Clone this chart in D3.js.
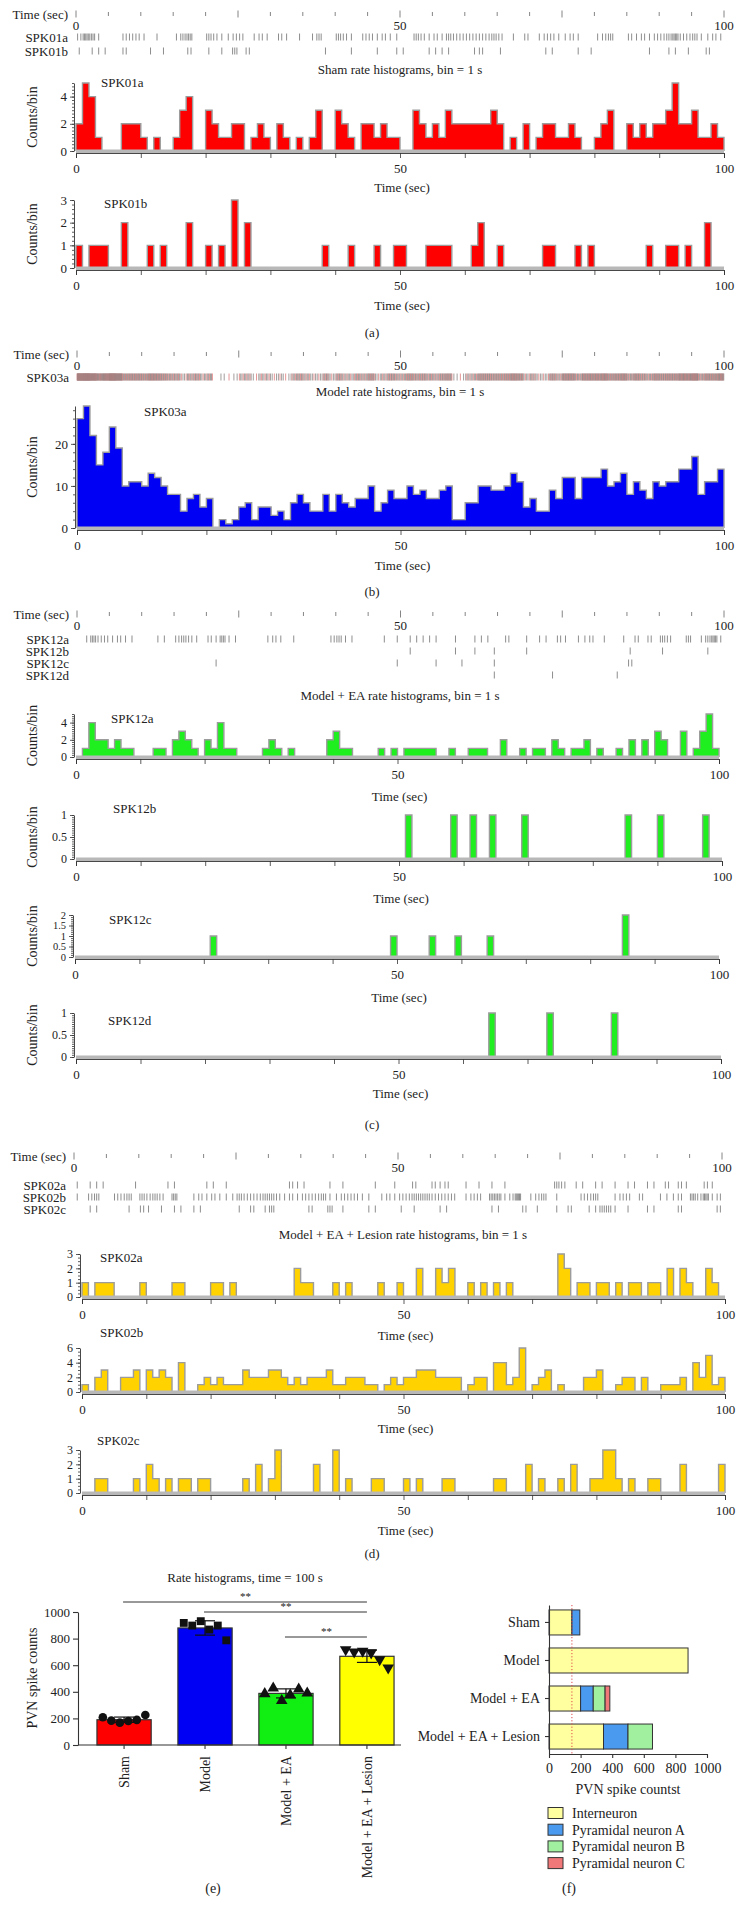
<!DOCTYPE html>
<html>
<head>
<meta charset="utf-8">
<script src="https://cdn.jsdelivr.net/npm/d3@7"></script>
<style>
  body { margin: 0; background: #fff; }
  svg text { font-family: 'Liberation Serif', 'Times New Roman', serif; fill: #222; }
</style>
</head>
<body>
<div id="chart"></div>
<script>
// spike counts per 1 s bin, 100 bins
const spk01a = [2,5,4,1,0,0,0,2,2,2, 1,0,1,0,0,1,3,4,0,0, 3,2,1,1,2,2,0,1,2,1, 0,2,1,0,1,0,1,3,0,0,
                3,2,1,0,2,2,1,2,1,1, 0,0,3,2,1,2,1,3,2,2, 2,2,2,2,3,2,0,1,0,2, 0,1,2,2,1,1,2,1,0,0,
                1,2,3,0,0,2,1,2,1,2, 2,3,5,2,2,3,1,1,2,1];
const spk01b = [1,0,1,1,1,0,0,2,0,0, 0,1,0,1,0,0,0,2,0,0, 1,0,1,0,3,0,2,0,0,0, 0,0,0,0,0,0,0,0,1,0,
                0,0,1,0,0,0,1,0,0,1, 1,0,0,0,1,1,1,1,0,0, 0,1,2,0,0,1,0,0,0,0, 0,0,1,1,0,0,0,1,0,1,
                0,0,0,0,0,0,0,0,1,0, 0,1,1,0,1,0,0,2,0,0];
const spk03a = [26,29,22,15,18,24,19,10,11,11, 10,13,12,10,8,8,4,7,8,5, 7,0,2,1,2,5,6,2,5,5, 3,4,2,6,8,6,4,4,8,4,
                8,6,5,7,7,10,4,6,9,7, 7,10,8,9,7,7,9,10,2,2, 6,6,10,10,9,9,10,13,11,5, 7,4,4,9,7,12,12,7,12,12,
                12,14,10,11,13,8,11,9,7,11, 10,11,11,14,14,17,8,11,11,14];
const spk12a = [0,1,4,2,2,1,2,1,1,0, 0,0,1,1,0,2,3,2,1,0, 2,1,4,1,1,0,0,0,0,1, 2,1,0,1,0,0,0,0,0,2,
                3,1,1,0,0,0,0,1,0,1, 0,1,1,1,1,1,0,0,1,0, 0,1,1,1,0,0,2,0,0,1, 0,1,1,0,2,1,0,1,1,2,
                0,1,0,0,1,0,2,0,2,0, 3,2,0,0,3,0,1,3,5,1];
const spk12b = [0,0,0,0,0,0,0,0,0,0, 0,0,0,0,0,0,0,0,0,0, 0,0,0,0,0,0,0,0,0,0, 0,0,0,0,0,0,0,0,0,0,
                0,0,0,0,0,0,0,0,0,0, 0,1,0,0,0,0,0,0,1,0, 0,1,0,0,1,0,0,0,0,1, 0,0,0,0,0,0,0,0,0,0,
                0,0,0,0,0,1,0,0,0,0, 1,0,0,0,0,0,0,1,0,0];
const spk12c = [0,0,0,0,0,0,0,0,0,0, 0,0,0,0,0,0,0,0,0,0, 0,1,0,0,0,0,0,0,0,0, 0,0,0,0,0,0,0,0,0,0,
                0,0,0,0,0,0,0,0,0,1, 0,0,0,0,0,1,0,0,0,1, 0,0,0,0,1,0,0,0,0,0, 0,0,0,0,0,0,0,0,0,0,
                0,0,0,0,0,2,0,0,0,0, 0,0,0,0,0,0,0,0,0,0];
const spk12d = [0,0,0,0,0,0,0,0,0,0, 0,0,0,0,0,0,0,0,0,0, 0,0,0,0,0,0,0,0,0,0, 0,0,0,0,0,0,0,0,0,0,
                0,0,0,0,0,0,0,0,0,0, 0,0,0,0,0,0,0,0,0,0, 0,0,0,0,1,0,0,0,0,0, 0,0,0,1,0,0,0,0,0,0,
                0,0,0,1,0,0,0,0,0,0, 0,0,0,0,0,0,0,0,0,0];
const spk02a = [1,0,1,1,1,0,0,0,0,1, 0,0,0,0,1,1,0,0,0,0, 1,1,0,1,0,0,0,0,0,0, 0,0,0,2,1,1,0,0,0,1,
                0,1,0,0,0,0,1,0,0,1, 0,0,2,0,0,2,1,2,0,0, 1,0,1,0,1,0,1,0,0,0, 0,0,0,0,3,2,0,1,1,0,
                1,1,0,1,0,1,1,0,1,1, 0,2,0,2,1,0,0,2,1,0];
const spk02b = [1,0,2,3,0,0,2,2,3,0, 3,2,3,2,0,4,0,0,1,2, 1,2,1,1,1,3,2,2,2,3, 3,2,1,2,1,2,2,2,3,1,
                1,2,2,2,1,1,0,1,2,1, 2,2,3,3,3,2,2,2,2,0, 1,2,2,0,4,4,1,2,6,0, 1,2,3,0,1,0,0,0,2,2,
                3,0,0,1,2,2,0,2,0,0, 1,1,1,2,0,4,2,5,1,2];
const spk02c = [0,0,1,1,0,0,0,0,1,0, 2,1,0,1,0,1,1,0,1,1, 0,0,0,0,0,1,0,2,0,1, 3,0,0,0,0,0,2,0,0,3,
                0,1,0,0,0,1,1,0,0,0, 1,0,1,0,0,0,1,1,0,0, 0,0,0,0,1,1,0,0,0,2, 0,1,0,0,1,0,2,0,0,1,
                1,3,3,1,0,1,0,0,1,1, 0,0,0,2,0,0,0,0,0,2];

const rulerTicks = [0,5,10,15,20,25,30,35,40,45,50,55,60,65,70,75,80,85,90,95,100];
const timeTicks = [0,10,20,30,40,50,60,70,80,90,100];
const timeLabels = [0, 50, 100];

// panel (e)
const groups = ["Sham", "Model", "Model + EA", "Model + EA + Lesion"];
const meanCounts = [190, 880, 388, 667];
const sdCounts = [20, 54, 34, 46];
const shamPts = [209, 183, 168, 181, 189, 226];
const modelPts = [918, 898, 931, 868, 898, 787];
const eaPts = [385, 428, 334, 377, 420, 390];
const lesionPts = [717, 700, 706, 694, 642, 581];
const countTicks = [0, 200, 400, 600, 800, 1000];
const sigPairs = [[0, 3], [1, 3], [2, 3]];

// panel (f)
const cellTypes = ["Interneuron", "Pyramidal neuron A", "Pyramidal neuron B", "Pyramidal neuron C"];
const interneuron = [145, 880, 200, 345];
const pyramidalA = [50, 0, 80, 155];
const pyramidalB = [0, 0, 75, 155];
const pyramidalC = [0, 0, 30, 0];
const refLine = 145;

const svg = d3.select("#chart").append("svg").attr("width", 745).attr("height", 1914);
svg.append("rect").attr("width", 745).attr("height", 1914).attr("fill", "#fff");

function text(x, y, s, size, anchor, rot) {
  const t = svg.append("text").attr("x", x).attr("y", y).attr("dy", "0.35em")
    .attr("font-size", size || 13).attr("text-anchor", anchor || "middle").text(s);
  if (rot) t.attr("transform", `rotate(${rot},${x},${y})`);
  return t;
}

// spread each bin's count across that bin for the raster rows
const spikeTimes = counts => counts.flatMap((n, i) => d3.range(n).map(k => i + (k + 0.5) / n));

function raster(cfg) {
  const x = d3.scaleLinear().domain([0, 100]).range(cfg.range);
  const g = svg.append("g");
  text(cfg.range[0] - 8, cfg.y, "Time (sec)", 13, "end");
  g.selectAll("line.rt").data(rulerTicks).join("line")
    .attr("x1", d => x(d)).attr("x2", d => x(d))
    .attr("y1", d => cfg.y - (d % 25 === 0 ? 3.5 : 2))
    .attr("y2", d => cfg.y + (d % 25 === 0 ? 3.5 : 2))
    .attr("stroke", "#666").attr("stroke-width", 0.8);
  g.selectAll("text.rl").data(timeLabels).join("text")
    .attr("x", d => x(d)).attr("y", cfg.y + 11).attr("dy", "0.35em")
    .attr("text-anchor", "middle").attr("font-size", 13).text(d => d);
  cfg.rows.forEach(([name, counts, yy]) => {
    text(cfg.range[0] - 8, yy, name, 13, "end");
    g.append("g").selectAll("line").data(spikeTimes(counts)).join("line")
      .attr("x1", d => x(d)).attr("x2", d => x(d))
      .attr("y1", yy - 3.5).attr("y2", yy + 3.5)
      .attr("stroke", (d, i) => cfg.tint ? (i % 3 === 0 ? "#e07a7a" : "#8c8484") : "#707070")
      .attr("stroke-width", 0.8);
  });
}

function hist(cfg) {
  const x = d3.scaleLinear().domain([0, 100]).range(cfg.range);
  const y = d3.scaleLinear().domain([0, cfg.max]).range([cfg.base, cfg.top]);
  const g = svg.append("g");
  const pts = cfg.data.map((v, i) => [i, v]).concat([[100, cfg.data[99]]]);
  g.append("path").datum(pts)
    .attr("d", d3.area().curve(d3.curveStepAfter).x(d => x(d[0])).y0(y(0)).y1(d => y(d[1])))
    .attr("fill", cfg.color);
  const outline = [[0, 0]].concat(pts, [[100, 0]]);
  g.append("path").datum(outline)
    .attr("d", d3.line().curve(d3.curveStepAfter).x(d => x(d[0])).y(d => y(d[1])))
    .attr("fill", "none").attr("stroke", "#9c9c9c").attr("stroke-width", 1.4);
  g.append("rect").attr("x", cfg.range[0]).attr("width", cfg.range[1] - cfg.range[0])
    .attr("y", cfg.base - 1.5).attr("height", 3.5).attr("fill", "#b8b8b8");

  const xa = g.append("g").attr("transform", `translate(0,${cfg.base + 2})`)
    .call(d3.axisBottom(x).tickValues(timeTicks).tickSize(5).tickPadding(6)
      .tickFormat(d => timeLabels.includes(d) ? d : ""));
  const ya = g.append("g").attr("transform", `translate(${cfg.range[0] - 2},0)`)
    .call(d3.axisLeft(y).tickValues(cfg.major).tickSize(4).tickPadding(3).tickSizeOuter(0)
      .tickFormat(d3.format("~g")));
  g.append("g").attr("transform", `translate(${cfg.range[0] - 2},0)`)
    .call(d3.axisLeft(y).tickValues(d3.range(0, cfg.max + 1e-9, cfg.minor)).tickSize(2).tickFormat("").tickSizeOuter(0))
    .select(".domain").remove();
  xa.selectAll("text").attr("font-size", 13).attr("fill", "#222");
  ya.selectAll("text").attr("font-size", cfg.tickFont || 13).attr("fill", "#222");
  [xa, ya].forEach(a => a.selectAll("line,path").attr("stroke", "#333").attr("stroke-width", 0.9));
  g.selectAll(".tick line").attr("stroke", "#333").attr("stroke-width", 0.8);
  text(cfg.nameX, cfg.nameY, cfg.name, 13, "start");
  if (cfg.yTitle) text(32, (cfg.base + cfg.top) / 2, "Counts/bin", 14, "middle", -90);
  if (cfg.timeY) text((cfg.range[0] + cfg.range[1]) / 2 + 2, cfg.timeY, "Time (sec)", 13);
}

const RED = "#ff0000", BLUE = "#0000f5", GREEN = "#1fee1f", GOLD = "#ffd200";

// (a) Sham
raster({ range: [76, 724], y: 14, rows: [["SPK01a", spk01a, 37], ["SPK01b", spk01b, 51]] });
text(400, 69, "Sham rate histograms, bin = 1 s", 13);
hist({ data: spk01a, range: [76, 724], base: 151, top: 83, max: 5, major: [0, 2, 4], minor: 0.25,
       color: RED, name: "SPK01a", nameX: 101, nameY: 82, yTitle: true, timeY: 187 });
hist({ data: spk01b, range: [76, 724], base: 268, top: 200, max: 3, major: [0, 1, 2, 3], minor: 0.2,
       color: RED, name: "SPK01b", nameX: 104, nameY: 203, yTitle: true, timeY: 305 });
text(372, 332, "(a)", 13);

// (b) Model
raster({ range: [77, 724], y: 354, rows: [["SPK03a", spk03a, 377]], tint: true });
text(400, 391, "Model rate histograms, bin = 1 s", 13);
hist({ data: spk03a, range: [77, 724], base: 528, top: 406, max: 29, major: [0, 10, 20], minor: 2,
       color: BLUE, name: "SPK03a", nameX: 144, nameY: 411, yTitle: true, timeY: 565 });
text(372, 591, "(b)", 13);

// (c) Model + EA
raster({ range: [77, 724], y: 614, rows: [["SPK12a", spk12a, 639], ["SPK12b", spk12b, 651],
                                           ["SPK12c", spk12c, 663], ["SPK12d", spk12d, 675]] });
text(400, 695, "Model + EA rate histograms, bin = 1 s", 13);
hist({ data: spk12a, range: [76, 719], base: 757, top: 714, max: 5, major: [0, 2, 4], minor: 0.25,
       color: GREEN, name: "SPK12a", nameX: 111, nameY: 718, yTitle: true, timeY: 796, tickFont: 12 });
hist({ data: spk12b, range: [76, 722], base: 859, top: 815, max: 1, major: [0, 0.5, 1], minor: 0.05,
       color: GREEN, name: "SPK12b", nameX: 113, nameY: 808, yTitle: true, timeY: 898, tickFont: 12 });
hist({ data: spk12c, range: [75, 719], base: 957, top: 915, max: 2, major: [0, 0.5, 1, 1.5, 2], minor: 0.1,
       color: GREEN, name: "SPK12c", nameX: 109, nameY: 919, yTitle: true, timeY: 997, tickFont: 10.5 });
hist({ data: spk12d, range: [76, 721], base: 1057, top: 1013, max: 1, major: [0, 0.5, 1], minor: 0.05,
       color: GREEN, name: "SPK12d", nameX: 108, nameY: 1020, yTitle: true, timeY: 1093, tickFont: 12 });
text(372, 1124, "(c)", 13);

// (d) Model + EA + Lesion
raster({ range: [74, 722], y: 1156, rows: [["SPK02a", spk02a, 1185], ["SPK02b", spk02b, 1197], ["SPK02c", spk02c, 1209]] });
text(403, 1234, "Model + EA + Lesion rate histograms, bin = 1 s", 13);
hist({ data: spk02a, range: [82, 725], base: 1297, top: 1254, max: 3, major: [0, 1, 2, 3], minor: 0.25,
       color: GOLD, name: "SPK02a", nameX: 100, nameY: 1257, timeY: 1335, tickFont: 12 });
hist({ data: spk02b, range: [82, 725], base: 1392, top: 1348, max: 6, major: [0, 2, 4, 6], minor: 0.5,
       color: GOLD, name: "SPK02b", nameX: 100, nameY: 1332, timeY: 1428, tickFont: 12 });
hist({ data: spk02c, range: [82, 725], base: 1493, top: 1450, max: 3, major: [0, 1, 2, 3], minor: 0.25,
       color: GOLD, name: "SPK02c", nameX: 97, nameY: 1440, timeY: 1530, tickFont: 12 });
text(372, 1553, "(d)", 13);

// (e) bar chart with points
{
  const x = d3.scaleBand().domain(groups).range([84, 407]).paddingInner(0.33).paddingOuter(0.16);
  const y = d3.scaleLinear().domain([0, 1000]).range([1745, 1612]);
  const g = svg.append("g");
  const fills = [RED, BLUE, "#11ee11", "#ffff00"];
  const pts = [shamPts, modelPts, eaPts, lesionPts];
  const shapes = [d3.symbolCircle, d3.symbolSquare, d3.symbolTriangle, d3.symbolTriangle];

  text(245, 1577, "Rate histograms, time = 100 s", 13);
  g.selectAll("rect.bar").data(groups).join("rect")
    .attr("x", d => x(d)).attr("width", x.bandwidth())
    .attr("y", (d, i) => y(meanCounts[i])).attr("height", (d, i) => y(0) - y(meanCounts[i]))
    .attr("fill", (d, i) => fills[i]).attr("stroke", "#333").attr("stroke-width", 1.2);

  groups.forEach((gr, i) => {
    const cx = x(gr) + x.bandwidth() / 2;
    pts[i].forEach((v, k) => {
      g.append("path").attr("d", d3.symbol().type(shapes[i]).size(i === 1 ? 62 : 58)())
        .attr("transform", `translate(${cx + (k - 2.5) * 8.5},${y(v)})${i === 3 ? " rotate(180)" : ""}`)
        .attr("fill", "#111");
    });
    const lo = y(meanCounts[i] - sdCounts[i]), hi = y(meanCounts[i] + sdCounts[i]);
    g.append("line").attr("x1", cx).attr("x2", cx).attr("y1", lo).attr("y2", hi).attr("stroke", "#111").attr("stroke-width", 1.2);
    [lo, hi].forEach(yy => g.append("line").attr("x1", cx - 10).attr("x2", cx + 10)
      .attr("y1", yy).attr("y2", yy).attr("stroke", "#111").attr("stroke-width", 1.2));
    text(cx, 1756, gr, 14, "end", -90);
  });

  const ya = g.append("g").attr("transform", "translate(78,0)")
    .call(d3.axisLeft(y).tickValues(countTicks).tickSize(5).tickPadding(3).tickSizeOuter(0).tickFormat(d => d));
  const xa = g.append("g").attr("transform", "translate(0,1745)")
    .call(d3.axisBottom(x).tickSize(4).tickFormat("").tickSizeOuter(0));
  xa.select(".domain").attr("d", "M78,0H401");
  [ya, xa].forEach(a => {
    a.selectAll("text").attr("font-size", 13).attr("fill", "#222");
    a.selectAll("line,path").attr("stroke", "#333").attr("stroke-width", 1.1);
  });
  text(32, 1678, "PVN spike counts", 14, "middle", -90);

  const sigY = [1602, 1612, 1637];
  sigPairs.forEach(([a, b], k) => {
    const x1 = x(groups[a]) + x.bandwidth() / 2, x2 = x(groups[b]) + x.bandwidth() / 2;
    g.append("line").attr("x1", x1 - 1).attr("x2", x2).attr("y1", sigY[k]).attr("y2", sigY[k])
      .attr("stroke", "#333").attr("stroke-width", 1);
    text((x1 + x2) / 2, sigY[k] - 6, "**", 11).attr("fill", "#555");
  });
  text(213, 1888, "(e)", 14);
}

// (f) stacked horizontal bars
{
  const y = d3.scaleBand().domain(groups).range([1605, 1754]).paddingInner(0.342).paddingOuter(0.13);
  const x = d3.scaleLinear().domain([0, 1000]).range([549, 707]);
  const g = svg.append("g");
  const colors = ["#ffffa0", "#4a9af0", "#a0f0a0", "#f07878"];
  const layers = d3.stack().keys([0, 1, 2, 3])(groups.map((gr, i) =>
    [interneuron[i], pyramidalA[i], pyramidalB[i], pyramidalC[i]]));

  layers.forEach((layer, li) => {
    g.append("g").selectAll("rect").data(layer).join("rect")
      .attr("y", (d, i) => y(groups[i])).attr("height", y.bandwidth())
      .attr("x", d => x(d[0])).attr("width", d => x(d[1]) - x(d[0]))
      .attr("fill", colors[li]).attr("stroke", "#333").attr("stroke-width", 1)
      .style("display", d => d[1] - d[0] > 0 ? null : "none");
  });
  g.append("line").attr("x1", x(refLine)).attr("x2", x(refLine)).attr("y1", 1605).attr("y2", 1754)
    .attr("stroke", "#e04848").attr("stroke-width", 1).attr("stroke-dasharray", "1.2,2");

  const ya = g.append("g").attr("transform", "translate(549,0)")
    .call(d3.axisLeft(y).tickSize(4).tickPadding(5).tickSizeOuter(0));
  const xa = g.append("g").attr("transform", "translate(0,1754)")
    .call(d3.axisBottom(x).tickValues(countTicks).tickSize(4).tickPadding(5).tickSizeOuter(0).tickFormat(d => d));
  [ya, xa].forEach(a => {
    a.selectAll("text").attr("font-size", 14).attr("fill", "#222");
    a.selectAll("line,path").attr("stroke", "#333").attr("stroke-width", 1.1);
  });
  text(628, 1789, "PVN spike countst", 14);

  cellTypes.forEach((c, i) => {
    const yy = 1813 + i * 16.7;
    g.append("rect").attr("x", 548).attr("y", yy - 5.5).attr("width", 15).attr("height", 11)
      .attr("fill", colors[i]).attr("stroke", "#333").attr("stroke-width", 1);
    text(572, yy, c, 14, "start");
  });
  text(569, 1888, "(f)", 14);
}
</script>
</body>
</html>
